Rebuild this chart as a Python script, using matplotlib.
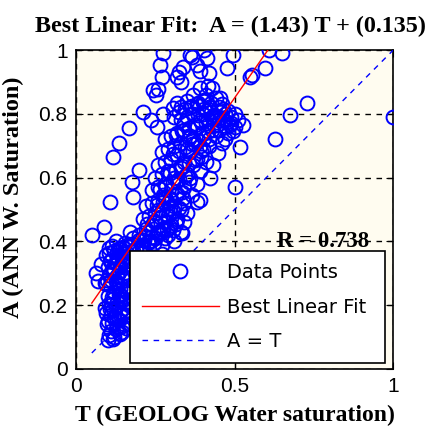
import numpy as np
import matplotlib.pyplot as plt

# fit result printed in the title
slope = 1.43
intercept = 0.135
r_value = 0.738

# scattered points (T = GEOLOG, A = ANN)
t_sparse = [0.275, 0.36, 0.404, 0.413, 0.495, 0.61, 0.65, 0.596, 0.555, 0.265,
            0.338, 0.38, 0.39, 0.42, 0.475, 0.325, 0.331, 0.416, 0.259, 0.252,
            0.32, 0.306, 0.211, 0.237, 0.275, 0.167, 0.136, 0.117, 0.20, 0.176,
            0.18, 0.108, 0.089, 0.05, 0.063, 0.07, 0.255, 0.243, 0.27, 0.318,
            0.365, 0.454, 0.527, 0.517, 0.449, 0.50, 0.423, 0.39, 0.628, 0.675,
            0.728, 1.0, 0.433, 0.38, 0.338, 0.549, 0.08, 0.095, 0.105, 0.126]
a_sparse = [0.99, 0.985, 1.0, 0.975, 0.985, 1.0, 0.99, 0.943, 0.922, 0.952,
            0.947, 0.953, 0.935, 0.928, 0.945, 0.931, 0.90, 0.888, 0.878, 0.858,
            0.834, 0.818, 0.806, 0.78, 0.80, 0.757, 0.71, 0.665, 0.624, 0.587,
            0.54, 0.523, 0.445, 0.42, 0.30, 0.275, 0.76, 0.875, 0.917, 0.917,
            0.978, 0.85, 0.765, 0.696, 0.677, 0.571, 0.60, 0.53, 0.72, 0.796,
            0.834, 0.79, 0.64, 0.523, 0.536, 0.915, 0.33, 0.357, 0.38, 0.40]

# dense band of points along the fit
t_dense = [0.10, 0.12, 0.14, 0.11, 0.13, 0.15, 0.10, 0.12, 0.16, 0.14,
           0.09, 0.11, 0.13, 0.15, 0.17, 0.10, 0.12, 0.14, 0.16, 0.09,
           0.11, 0.13, 0.15, 0.17, 0.12, 0.14, 0.16, 0.11, 0.13, 0.15,
           0.17, 0.10, 0.12, 0.14, 0.16, 0.18, 0.13, 0.15, 0.17, 0.11,
           0.19, 0.21, 0.23, 0.20, 0.22, 0.25, 0.19, 0.24, 0.27, 0.21,
           0.19, 0.21, 0.23, 0.25, 0.27, 0.29, 0.31, 0.33, 0.20, 0.22,
           0.24, 0.26, 0.28, 0.30, 0.32, 0.34, 0.21, 0.23, 0.25, 0.27,
           0.29, 0.31, 0.33, 0.22, 0.24, 0.26, 0.28, 0.30, 0.32, 0.34,
           0.25, 0.27, 0.29, 0.18, 0.17, 0.30, 0.26, 0.35, 0.23, 0.28,
           0.24, 0.26, 0.28, 0.30, 0.32, 0.34, 0.36, 0.38, 0.25, 0.27,
           0.29, 0.31, 0.33, 0.35, 0.37, 0.39, 0.41, 0.26, 0.28, 0.30,
           0.32, 0.34, 0.36, 0.38, 0.40, 0.27, 0.29, 0.31, 0.33, 0.35,
           0.37, 0.39, 0.42, 0.28, 0.30, 0.32, 0.34, 0.36, 0.38, 0.40,
           0.41, 0.43, 0.45, 0.47, 0.49, 0.33, 0.35, 0.37, 0.39, 0.41,
           0.43, 0.45, 0.47, 0.49, 0.51, 0.36, 0.38, 0.40, 0.42, 0.44,
           0.46, 0.48, 0.50, 0.44, 0.46, 0.48, 0.42, 0.37, 0.39, 0.41,
           0.35, 0.33, 0.31, 0.34, 0.43, 0.45, 0.47, 0.50, 0.44, 0.40,
           0.105, 0.125, 0.145, 0.115, 0.135, 0.155, 0.095, 0.165, 0.125, 0.105,
           0.145, 0.115, 0.135, 0.155, 0.165, 0.095, 0.125, 0.145, 0.105, 0.135,
           0.115, 0.155, 0.125, 0.145, 0.165, 0.105, 0.135, 0.115, 0.155, 0.145,
           0.215, 0.235, 0.255, 0.275, 0.295, 0.315, 0.245, 0.265, 0.285, 0.305,
           0.325, 0.255, 0.275, 0.295, 0.315, 0.335, 0.265, 0.285, 0.305, 0.325,
           0.345, 0.275, 0.295, 0.315, 0.335, 0.355, 0.225, 0.245, 0.305, 0.365,
           0.295, 0.315, 0.335, 0.355, 0.375, 0.395, 0.305, 0.325, 0.345, 0.365,
           0.385, 0.405, 0.315, 0.335, 0.355, 0.375, 0.395, 0.415, 0.435, 0.325,
           0.345, 0.365, 0.385, 0.405, 0.425, 0.445, 0.465, 0.355, 0.375, 0.395,
           0.415, 0.435, 0.455, 0.475, 0.495, 0.385, 0.405, 0.425, 0.465, 0.485,
           0.118, 0.138, 0.158, 0.098, 0.128, 0.148, 0.108, 0.168, 0.118, 0.138,
           0.158, 0.128, 0.098, 0.148, 0.118, 0.138, 0.108, 0.158, 0.128, 0.148,
           0.168, 0.118, 0.138, 0.108, 0.128, 0.148, 0.158, 0.118, 0.138, 0.168,
           0.178, 0.198, 0.218, 0.238, 0.188, 0.208, 0.228, 0.248, 0.268, 0.288]
a_dense = [0.09, 0.10, 0.11, 0.12, 0.13, 0.14, 0.15, 0.16, 0.17, 0.18,
           0.19, 0.20, 0.21, 0.22, 0.20, 0.23, 0.24, 0.25, 0.26, 0.27,
           0.28, 0.29, 0.30, 0.28, 0.31, 0.32, 0.33, 0.34, 0.35, 0.36,
           0.34, 0.32, 0.37, 0.38, 0.39, 0.37, 0.27, 0.19, 0.24, 0.17,
           0.30, 0.33, 0.35, 0.25, 0.28, 0.34, 0.20, 0.30, 0.36, 0.15,
           0.38, 0.39, 0.40, 0.41, 0.39, 0.42, 0.40, 0.43, 0.42, 0.44,
           0.45, 0.43, 0.46, 0.45, 0.47, 0.46, 0.47, 0.48, 0.49, 0.50,
           0.48, 0.51, 0.50, 0.51, 0.52, 0.53, 0.54, 0.53, 0.55, 0.52,
           0.46, 0.44, 0.52, 0.41, 0.43, 0.49, 0.50, 0.49, 0.43, 0.41,
           0.56, 0.57, 0.58, 0.56, 0.59, 0.57, 0.60, 0.58, 0.60, 0.61,
           0.62, 0.60, 0.63, 0.61, 0.64, 0.62, 0.65, 0.64, 0.65, 0.66,
           0.67, 0.65, 0.68, 0.66, 0.69, 0.68, 0.69, 0.70, 0.71, 0.69,
           0.72, 0.70, 0.72, 0.72, 0.73, 0.74, 0.75, 0.73, 0.76, 0.74,
           0.77, 0.75, 0.78, 0.76, 0.79, 0.78, 0.79, 0.80, 0.78, 0.81,
           0.79, 0.82, 0.80, 0.77, 0.78, 0.82, 0.83, 0.84, 0.82, 0.85,
           0.83, 0.81, 0.76, 0.73, 0.71, 0.74, 0.70, 0.86, 0.88, 0.86,
           0.84, 0.82, 0.79, 0.77, 0.88, 0.75, 0.72, 0.80, 0.79, 0.80,
           0.105, 0.125, 0.135, 0.145, 0.155, 0.165, 0.175, 0.185, 0.195, 0.205,
           0.215, 0.225, 0.235, 0.245, 0.255, 0.265, 0.275, 0.285, 0.295, 0.305,
           0.315, 0.325, 0.335, 0.345, 0.355, 0.365, 0.375, 0.385, 0.395, 0.115,
           0.405, 0.415, 0.425, 0.435, 0.445, 0.455, 0.465, 0.475, 0.485, 0.495,
           0.505, 0.515, 0.525, 0.535, 0.545, 0.555, 0.565, 0.575, 0.585, 0.595,
           0.605, 0.545, 0.505, 0.465, 0.425, 0.585, 0.455, 0.395, 0.435, 0.545,
           0.615, 0.625, 0.635, 0.645, 0.655, 0.665, 0.675, 0.685, 0.695, 0.705,
           0.715, 0.725, 0.735, 0.745, 0.755, 0.765, 0.775, 0.785, 0.795, 0.805,
           0.815, 0.825, 0.835, 0.845, 0.805, 0.765, 0.785, 0.725, 0.705, 0.685,
           0.745, 0.765, 0.805, 0.775, 0.745, 0.795, 0.815, 0.835, 0.815, 0.765,
           0.095, 0.112, 0.128, 0.142, 0.158, 0.172, 0.188, 0.202, 0.218, 0.232,
           0.248, 0.262, 0.278, 0.292, 0.308, 0.322, 0.338, 0.352, 0.368, 0.382,
           0.142, 0.188, 0.232, 0.262, 0.292, 0.338, 0.368, 0.312, 0.218, 0.382,
           0.392, 0.405, 0.418, 0.402, 0.372, 0.385, 0.398, 0.412, 0.425, 0.438]

x_ticks = [0, 0.5, 1]
y_ticks = [0, 0.2, 0.4, 0.6, 0.8, 1]

t_all = np.array(t_sparse + t_dense)
a_all = np.array(a_sparse + a_dense)

serif = ['Liberation Serif', 'DejaVu Serif']
sans = ['Liberation Sans', 'DejaVu Sans']

fig = plt.figure(figsize=(4.34, 4.32), dpi=100)
ax = fig.add_axes([0.175, 0.146, 0.731, 0.738])
ax.set_facecolor('#fffcf0')

ax.plot(t_all, a_all, 'o', ls='none', mfc='none', mec='#0000ff', ms=10, mew=1.4,
        label='Data Points', zorder=3)
t_line = np.array([t_all.min(), t_all.max()])
ax.plot(t_line, slope * t_line + intercept, color='red', lw=1.0,
        label='Best Linear Fit', zorder=4)
ax.plot(t_line, t_line, color='#0000ff', lw=1.0, ls=(0, (4, 4)),
        label='A = T', zorder=4)

ax.set_xlim(0, 1)
ax.set_ylim(0, 1)
ax.set_xticks(x_ticks)
ax.set_xticklabels(['0', '0.5', '1'])
ax.set_yticks(y_ticks)
ax.set_yticklabels(['0', '0.2', '0.4', '0.6', '0.8', '1'])
ax.tick_params(direction='in', length=5, top=True, right=True, labelsize=15, pad=6)
for lab in ax.get_xticklabels() + ax.get_yticklabels():
    lab.set_family(sans)
ax.grid(True, color='black', ls=(0, (4, 4)), lw=1.0)
ax.set_axisbelow(True)
for sp in ax.spines.values():
    sp.set_linewidth(1.2)

ax.set_title('Best Linear Fit:  A = (%.2f) T + (%.3f)' % (slope, intercept),
             family=serif, fontweight='bold', fontsize=17.4, pad=13, x=0.487)
ax.set_xlabel('T (GEOLOG Water saturation)', family=serif, fontweight='bold',
              fontsize=17, labelpad=6)
ax.set_ylabel('A (ANN W. Saturation)', family=serif, fontweight='bold',
              fontsize=17.5, labelpad=4)
ax.yaxis.set_label_coords(-0.165, 0.54)
ax.text(0.635, 0.40, 'R = %.3f' % r_value, family=serif, fontweight='bold',
        fontsize=16.5, va='center', ha='left', zorder=5)

leg = ax.legend(loc='lower left', bbox_to_anchor=(0.17, 0.019, 0.805, 0.345),
                mode='expand', borderaxespad=0,
                prop={'family': 'DejaVu Sans', 'size': 14}, fancybox=False,
                edgecolor='black', framealpha=1, handlelength=4.0,
                handletextpad=0.4, labelspacing=0.8, borderpad=0.6)
leg.get_frame().set_linewidth(1.2)
leg.set_zorder(6)

fig.savefig('out.png', dpi=100)
